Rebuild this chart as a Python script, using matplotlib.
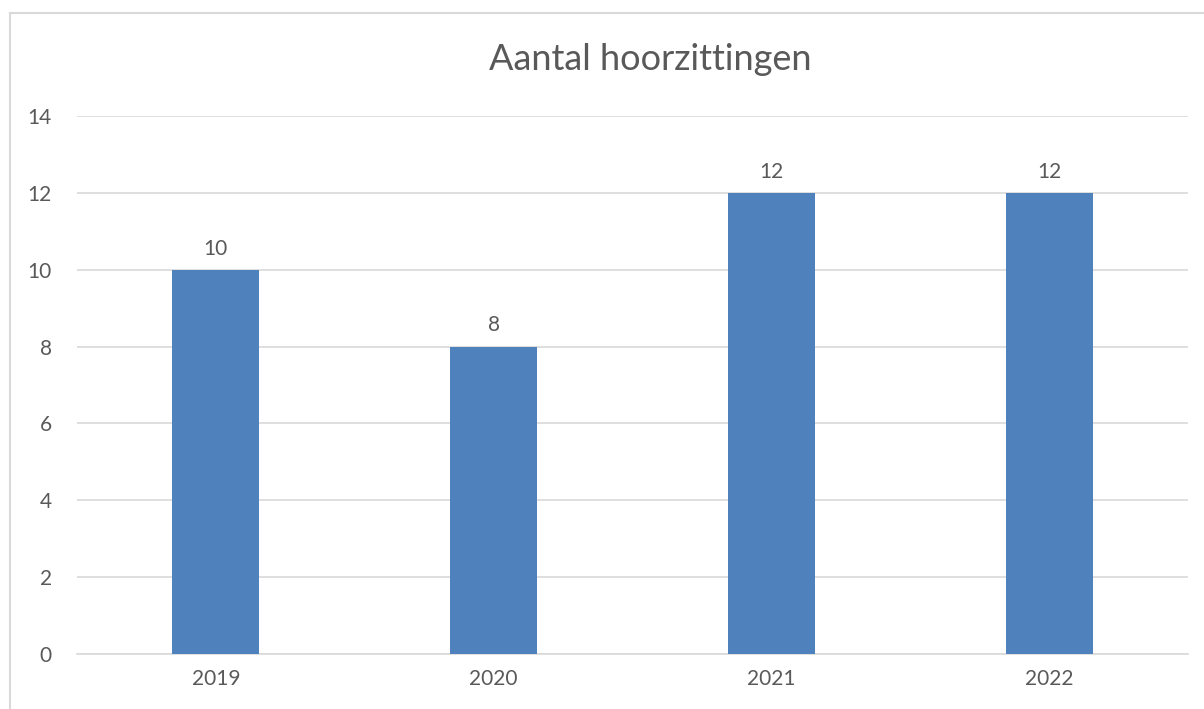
import matplotlib
matplotlib.use("Agg")
from matplotlib import pyplot as plt
from matplotlib.lines import Line2D

years = ["2019", "2020", "2021", "2022"]
hearings = [10, 8, 12, 12]
yticks = [0, 2, 4, 6, 8, 10, 12, 14]

plt.rcParams['font.family'] = ['Lato', 'DejaVu Sans']
grey = '#595959'

W, H = 1204, 709
fig = plt.figure(figsize=(W / 100, H / 100), dpi=100)
# plot area in pixels: x 77..1188, y 116..654
ax = fig.add_axes([77 / W, 1 - 654 / H, (1188 - 77) / W, (654 - 116) / H])

x = list(range(len(years)))
bars = ax.bar(x, hearings, width=0.313, color='#4F81BD', zorder=3)
for b, v in zip(bars, hearings):
    ax.annotate(str(v), (b.get_x() + b.get_width() / 2, v), xytext=(0, 8),
                textcoords='offset points', ha='center', va='bottom',
                fontsize=15, color=grey)

ax.set_xlim(-0.5, len(years) - 0.5)
ax.set_ylim(0, 14)
ax.set_yticks(yticks)
ax.set_xticks(x)
ax.set_xticklabels(years)
ax.yaxis.grid(True, color='#d9d9d9', linewidth=1.2, zorder=0)
for s in ['top', 'right', 'left']:
    ax.spines[s].set_visible(False)
ax.spines['bottom'].set_color('#d9d9d9')
ax.spines['bottom'].set_linewidth(1.2)
ax.tick_params(axis='both', length=0, labelsize=15, colors=grey)
ax.tick_params(axis='y', pad=18)
ax.tick_params(axis='x', pad=11)

fig.text(650 / W, 1 - 60 / H, "Aantal hoorzittingen", ha='center', va='center',
         fontsize=26, color=grey)

# chart border (Excel chart area)
fig.add_artist(Line2D([10 / W, 10 / W], [0, 1 - 13 / H], color='#d9d9d9', linewidth=1.5))
fig.add_artist(Line2D([10 / W, 1], [1 - 13 / H, 1 - 13 / H], color='#d9d9d9', linewidth=1.5))

fig.savefig("out.png", dpi=100)
